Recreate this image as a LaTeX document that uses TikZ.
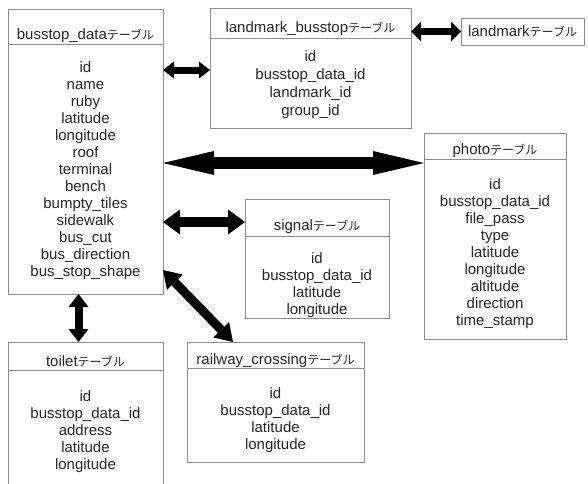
\documentclass[tikz,border=0pt]{standalone}
\usepackage{fontspec}
\setmainfont{Liberation Sans}
\newfontfamily\jpfont{Noto Sans CJK JP}
\usetikzlibrary{arrows.meta}
\newcommand{\teeburu}{{\jpfont\fontsize{12pt}{17pt}\selectfont テーブル}}
\tikzset{
  tbl/.style={draw=black!45, line width=0.9pt, inner sep=0pt, outer sep=0pt, anchor=north west},
  rule/.style={draw=black!45, line width=0.9pt},
  ttl/.style={anchor=base, inner sep=0pt, text=black!85},
  fld/.style={anchor=base, inner sep=0pt, text=black!85},
  link/.style n args={3}{line width=#1,
    arrows={Triangle[length=#2,width=#3,line width=0pt 0]-Triangle[length=#2,width=#3,line width=0pt 0]}}
}
\begin{document}
\begin{tikzpicture}[x=1pt, y=-1pt, font=\fontsize{15pt}{17pt}\selectfont]
    \useasboundingbox (0,0) rectangle (588,483);
    % busstop_data
    \node[tbl, minimum width=155pt, minimum height=285pt] (bd) at (8,9) {};
    \draw[rule] ([yshift=-35pt]bd.north west) -- ([yshift=-35pt]bd.north east);
    \node[ttl] (bd-t) at (85.5,39) {busstop\_data\teeburu};
    \foreach \f [count=\i] in {id, name, ruby, latitude, longitude, roof, terminal, bench,
        bumpty\_tiles, sidewalk, bus\_cut, bus\_direction, bus\_stop\_shape}
      \node[fld] (bd-\i) at (85.5, 55+17*\i) {\f};
    % landmark_busstop
    \node[tbl, minimum width=201pt, minimum height=120pt] (lb) at (210,8) {};
    \draw[rule] ([yshift=-30pt]lb.north west) -- ([yshift=-30pt]lb.north east);
    \node[ttl] (lb-t) at (310.5,32) {landmark\_busstop\teeburu};
    \foreach \f [count=\i] in {id, busstop\_data\_id, landmark\_id, group\_id}
      \node[fld] (lb-\i) at (310.5, 43+18*\i) {\f};
    % landmark
    \node[tbl, minimum width=123pt, minimum height=27pt, text=black!85] (lm) at (461,18) {landmark\teeburu};
    % photo
    \node[tbl, minimum width=142pt, minimum height=206pt] (ph) at (424,133) {};
    \draw[rule] ([yshift=-26pt]ph.north west) -- ([yshift=-26pt]ph.north east);
    \node[ttl] (ph-t) at (495,154) {photo\teeburu};
    \foreach \f [count=\i] in {id, busstop\_data\_id, file\_pass, type, latitude, longitude,
        altitude, direction, time\_stamp}
      \node[fld] (ph-\i) at (495, 172+17*\i) {\f};
    % signal
    \node[tbl, minimum width=144pt, minimum height=119pt] (sg) at (245,199) {};
    \draw[rule] ([yshift=-37pt]sg.north west) -- ([yshift=-37pt]sg.north east);
    \node[ttl] (sg-t) at (317,230) {signal\teeburu};
    \foreach \f [count=\i] in {id, busstop\_data\_id, latitude, longitude}
      \node[fld] (sg-\i) at (317, 246+17*\i) {\f};
    % toilet
    \node[tbl, minimum width=155pt, minimum height=150pt] (tl) at (8,342) {};
    \draw[rule] ([yshift=-28pt]tl.north west) -- ([yshift=-28pt]tl.north east);
    \node[ttl] (tl-t) at (85.5,366) {toilet\teeburu};
    \foreach \f [count=\i] in {id, busstop\_data\_id, address, latitude, longitude}
      \node[fld] (tl-\i) at (85.5, 385+16.8*\i) {\f};
    % railway_crossing
    \node[tbl, minimum width=177pt, minimum height=120pt] (rc) at (187,342) {};
    \draw[rule] ([yshift=-26pt]rc.north west) -- ([yshift=-26pt]rc.north east);
    \node[ttl] (rc-t) at (275.5,364) {railway\_crossing\teeburu};
    \foreach \f [count=\i] in {id, busstop\_data\_id, latitude, longitude}
      \node[fld] (rc-\i) at (275.5, 381+17*\i) {\f};
    % links
    \draw[link={7pt}{11pt}{17pt}] ([yshift=-61pt]bd.north east) -- ([yshift=-62pt]lb.north west);
    \draw[link={7pt}{10pt}{20pt}] (lm.west -| lb.east) -- (lm.west);
    \draw[link={12pt}{51pt}{24pt}] ([yshift=-30pt]ph.north west -| bd.east) -- ([yshift=-30pt]ph.north west);
    \draw[link={10pt}{17pt}{25pt}] ([yshift=-23pt]sg.north west -| bd.east) -- ([yshift=-23pt]sg.north west);
    \draw[link={8pt}{13pt}{20pt}] ([xshift=-7pt]bd.south) -- ([xshift=-7pt]tl.north);
    \draw[link={9pt}{17pt}{22pt}] ([yshift=24pt]bd.south east) -- ([xshift=46pt]rc.north west);
\end{tikzpicture}
\end{document}
